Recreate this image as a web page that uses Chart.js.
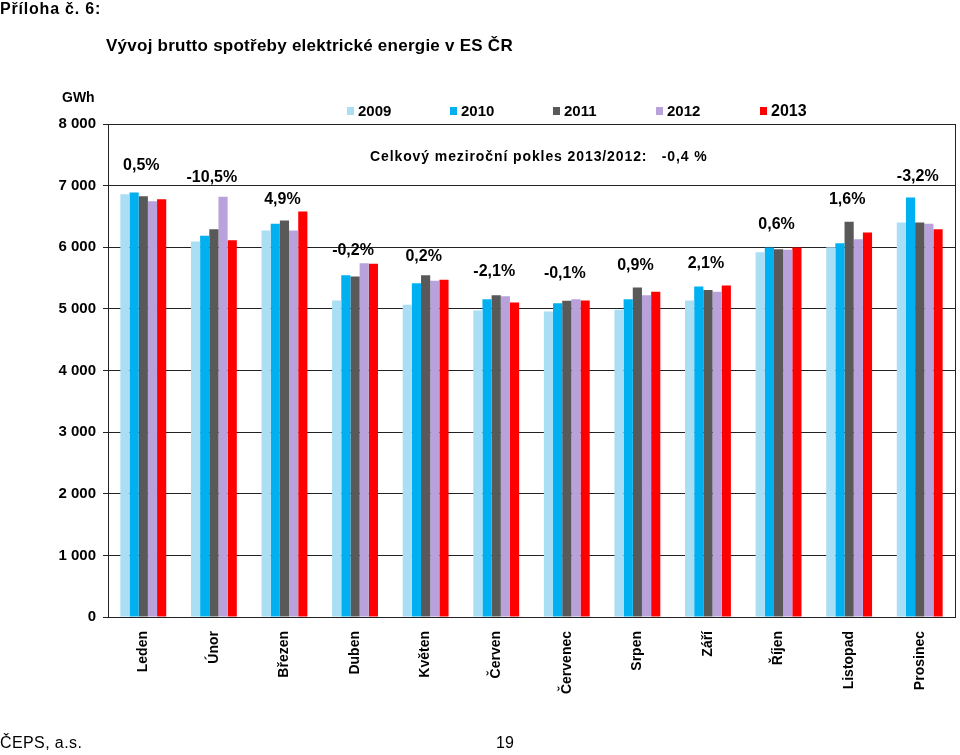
<!DOCTYPE html>
<html>
<head>
<meta charset="utf-8">
<script src="https://cdn.jsdelivr.net/npm/chart.js@4"></script>
<style>
  body { margin: 0; background: #fff; font-family: Arial, "Liberation Sans", sans-serif; }
  #wrap { position: relative; width: 960px; height: 755px; }
  #chart { position: absolute; left: 0; top: 0; }
  .txt { position: absolute; color: #000; white-space: nowrap; }
</style>
</head>
<body>
<div id="wrap">
  <canvas id="chart" width="960" height="755"></canvas>
  <div class="txt" style="left:0; top:0; font-size:16px; font-weight:bold; letter-spacing:0.8px;">Příloha č. 6:</div>
  <div class="txt" style="left:106px; top:36px; font-size:17px; font-weight:bold; letter-spacing:0.25px;">Vývoj brutto spotřeby elektrické energie v ES ČR</div>
  <div class="txt" style="left:62px; top:89px; font-size:14px; font-weight:bold;">GWh</div>
  <div class="txt" style="left:370px; top:148px; font-size:14px; font-weight:bold; letter-spacing:0.9px;">Celkový meziroční pokles 2013/2012:&nbsp;&nbsp; -0,4 %</div>
  <div class="txt" style="left:0; top:734px; font-size:16px; letter-spacing:0.4px;">ČEPS, a.s.</div>
  <div class="txt" style="left:496px; top:734px; font-size:16px;">19</div>
</div>
<script>
// months and yearly series (GWh)
const months = ["Leden", "Únor", "Březen", "Duben", "Květen", "Červen",
  "Červenec", "Srpen", "Září", "Říjen", "Listopad", "Prosinec"];
const years = ["2009", "2010", "2011", "2012", "2013"];
const v2009 = [6860, 6095, 6270, 5135, 5065, 4972, 4956, 4984, 5135, 5920, 6001, 6401];
const v2010 = [6888, 6185, 6380, 5547, 5417, 5157, 5092, 5157, 5362, 5995, 6066, 6807];
const v2011 = [6829, 6294, 6433, 5524, 5547, 5222, 5130, 5346, 5308, 5969, 6412, 6401];
const v2012 = [6748, 6818, 6271, 5742, 5455, 5206, 5157, 5222, 5276, 5958, 6131, 6380];
const v2013 = [6780, 6115, 6580, 5731, 5471, 5102, 5135, 5276, 5378, 5995, 6239, 6294];
// change 2013 vs 2012 per month
const changes = ["0,5%", "-10,5%", "4,9%", "-0,2%", "0,2%", "-2,1%",
  "-0,1%", "0,9%", "2,1%", "0,6%", "1,6%", "-3,2%"];

const colors = ["#a9def5", "#00b0f0", "#595959", "#b9a2dc", "#ff0000"];
const series = [v2009, v2010, v2011, v2012, v2013];

// percentage labels above each month group
const changeLabels = {
  id: "changeLabels",
  afterDatasetsDraw(chart, args, opts) {
    const ctx = chart.ctx;
    const x = chart.scales.x, y = chart.scales.y;
    ctx.save();
    ctx.font = "bold 16px Arial, 'Liberation Sans'";
    ctx.fillStyle = "#000";
    ctx.textAlign = "center";
    ctx.textBaseline = "middle";
    changes.forEach((txt, i) => {
      const top = Math.max(...chart.data.datasets.map(d => d.data[i]));
      ctx.fillText(txt, x.getPixelForValue(i) - 2, y.getPixelForValue(top) - opts.offsets[i]);
    });
    ctx.restore();
  }
};

// legend drawn from the datasets, plus right border of plot box
const boxLegend = {
  id: "boxLegend",
  afterDraw(chart, args, opts) {
    const ctx = chart.ctx;
    const a = chart.chartArea;
    ctx.save();
    ctx.strokeStyle = "#222";
    ctx.lineWidth = 1;
    ctx.beginPath();
    ctx.moveTo(a.right + 0.5, a.top);
    ctx.lineTo(a.right + 0.5, a.bottom);
    ctx.stroke();
    ctx.textBaseline = "middle";
    chart.data.datasets.forEach((d, i) => {
      const lx = opts.xs[i];
      ctx.fillStyle = d.backgroundColor;
      ctx.fillRect(lx, opts.y - 4, 7, 8);
      ctx.fillStyle = "#000";
      ctx.font = (i === 4 ? "bold 16px" : "bold 15px") + " Arial, 'Liberation Sans'";
      ctx.fillText(d.label, lx + 11, opts.y + 1);
    });
    ctx.restore();
  }
};

new Chart(document.getElementById("chart"), {
  type: "bar",
  data: {
    labels: months,
    datasets: years.map((yr, i) => ({
      label: yr,
      data: series[i],
      backgroundColor: colors[i],
      borderWidth: 0,
      barPercentage: 1.0,
      categoryPercentage: 0.65
    }))
  },
  options: {
    responsive: false,
    animation: false,
    layout: { padding: { top: 124, right: 5, left: 0, bottom: 0 } },
    plugins: {
      legend: { display: false },
      tooltip: { enabled: false },
      changeLabels: { offsets: [27, 19, 12, 13, 19, 24, 26, 22, 22, 23, 22, 21] },
      boxLegend: { xs: [347, 450, 553, 656, 760], y: 111 }
    },
    scales: {
      x: {
        grid: { display: false },
        border: { display: true, color: "#222", width: 1 },
        ticks: {
          color: "#000",
          font: { family: "Arial, 'Liberation Sans'", size: 14, weight: "bold" },
          minRotation: 90,
          maxRotation: 90,
          padding: 6
        },
        afterFit(scale) { scale.height = 138; }
      },
      y: {
        min: 0,
        max: 8000,
        ticks: {
          stepSize: 1000,
          color: "#000",
          padding: 7,
          font: { family: "Arial, 'Liberation Sans'", size: 15, weight: "bold" },
          callback: v => v === 0 ? "0" : String(v).replace(/\B(?=(\d{3})+(?!\d))/g, " ")
        },
        grid: { color: "#222", lineWidth: 1, tickLength: 5 },
        border: { display: true, color: "#222", width: 1 },
        afterFit(scale) { scale.width = 108; }
      }
    }
  },
  plugins: [changeLabels, boxLegend]
});
</script>
</body>
</html>
